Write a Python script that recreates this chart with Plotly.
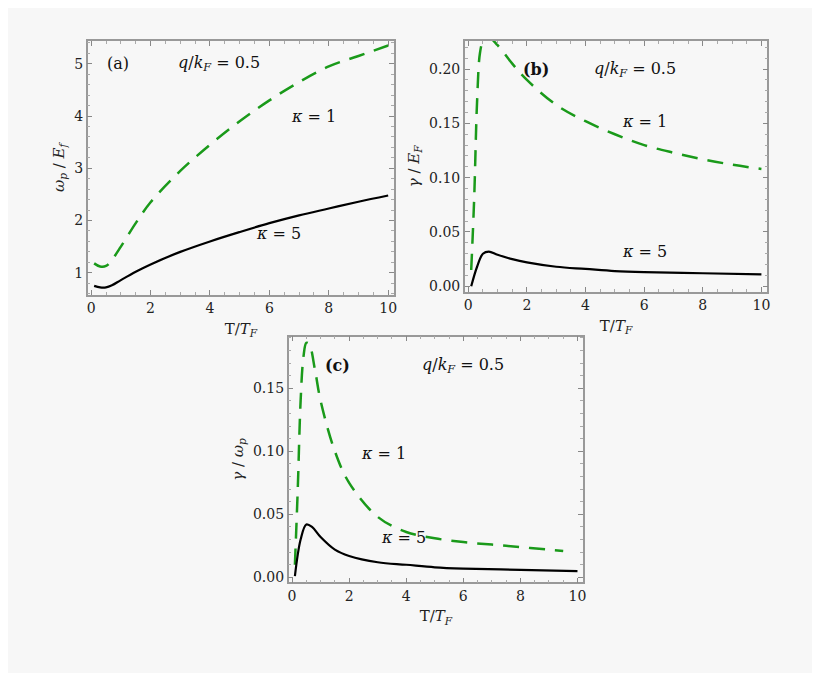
import plotly.graph_objects as go

# panel (a): omega_p / E_F
xa_k1 = [0.1, 0.3, 0.5, 0.7, 1, 1.5, 2, 3, 4, 5, 6, 7, 8, 9, 10]
ya_k1 = [1.18, 1.12, 1.13, 1.25, 1.5, 1.95, 2.35, 2.95, 3.45, 3.9, 4.3, 4.65, 4.95, 5.15, 5.35]
xa_k5 = [0.1, 0.3, 0.5, 0.7, 1, 1.5, 2, 3, 4, 5, 6, 7, 8, 9, 10]
ya_k5 = [0.75, 0.72, 0.72, 0.76, 0.86, 1.02, 1.16, 1.4, 1.6, 1.78, 1.95, 2.1, 2.23, 2.36, 2.48]

# panel (b): gamma / E_F
xb_k1 = [0.1, 0.2, 0.3, 0.4, 0.5, 0.7, 1, 1.5, 2, 3, 4, 5, 6, 7, 8, 9, 10]
yb_k1 = [0.015, 0.08, 0.17, 0.215, 0.225, 0.229, 0.222, 0.205, 0.19, 0.167, 0.152, 0.14, 0.13, 0.123, 0.117, 0.112, 0.108]
xb_k5 = [0.1, 0.3, 0.5, 0.7, 1, 1.5, 2, 3, 4, 5, 6, 8, 10]
yb_k5 = [0.0, 0.018, 0.03, 0.032, 0.029, 0.025, 0.022, 0.018, 0.016, 0.014, 0.013, 0.012, 0.011]

# panel (c): gamma / omega_p
xc_k1 = [0.1, 0.2, 0.3, 0.4, 0.5, 0.6, 0.8, 1, 1.5, 2, 3, 4, 5, 6, 7, 8, 9, 9.5]
yc_k1 = [0.01, 0.07, 0.14, 0.175, 0.186, 0.185, 0.165, 0.14, 0.1, 0.075, 0.048, 0.036, 0.031, 0.028, 0.026, 0.024, 0.022, 0.021]
xc_k5 = [0.1, 0.3, 0.5, 0.7, 1, 1.5, 2, 3, 4, 5, 6, 8, 10]
yc_k5 = [0.001, 0.03, 0.042, 0.04, 0.032, 0.022, 0.017, 0.012, 0.01, 0.008, 0.007, 0.006, 0.005]

green = '#1a9a1a'
font = 'DejaVu Serif, Liberation Serif, serif'
fig = go.Figure()

panels = [
    ('', xa_k1, ya_k1, xa_k5, ya_k5),
    ('2', xb_k1, yb_k1, xb_k5, yb_k5),
    ('3', xc_k1, yc_k1, xc_k5, yc_k5),
]
for s, x1, y1, x5, y5 in panels:
    fig.add_trace(go.Scatter(x=x1, y=y1, mode='lines', line=dict(color=green, width=2.5, dash='16px,10px', shape='spline'),
                             xaxis='x' + s, yaxis='y' + s, showlegend=False))
    fig.add_trace(go.Scatter(x=x5, y=y5, mode='lines', line=dict(color='black', width=2.2, shape='spline'),
                             xaxis='x' + s, yaxis='y' + s, showlegend=False))

ax = dict(showgrid=False, zeroline=False, showline=True, linecolor='#999', linewidth=1.5, mirror='ticks',
          ticks='inside', ticklen=5, tickcolor='#888', minor=dict(ticks='inside', ticklen=3, tickcolor='#aaa'),
          tickfont=dict(family=font, size=14, color='#222'))

def xaxis(dom, anchor):
    return dict(ax, domain=dom, anchor=anchor, range=[-0.12, 10.2], tickvals=[0, 2, 4, 6, 8, 10],
                minor=dict(ax['minor'], dtick=0.5),
                title=dict(text='T/<i>T<sub>F</sub></i>', font=dict(family=font, size=15, color='#222'), standoff=8))

def yaxis(dom, anchor, rng, dtick, minor, fmt, title):
    return dict(ax, domain=dom, anchor=anchor, range=rng, dtick=dtick, tickformat=fmt,
                minor=dict(ax['minor'], dtick=minor),
                title=dict(text=title, font=dict(family=font, size=15, color='#222'), standoff=6))

# page has an 8px body margin, so domains are shifted to compensate
W, H = 820.0, 673.0
def dx(a, b):
    return [(a - 8) / W, (b - 8) / W]
def dy(top, bot):
    return [1 - (bot - 8) / H, 1 - (top - 8) / H]

fig.update_layout(
    width=820, height=673, margin=dict(l=0, r=0, t=0, b=0),
    paper_bgcolor='#f7f7f7', plot_bgcolor='#f7f7f7',
    xaxis=xaxis(dx(87, 395), 'y'),
    yaxis=yaxis(dy(41, 296), 'x', [0.58, 5.44], 1, 0.2, '', '<i>ω<sub>p</sub></i> / <i>E<sub>f</sub></i>'),
    xaxis2=xaxis(dx(466, 770), 'y2'),
    yaxis2=yaxis(dy(41, 293), 'x2', [-0.005, 0.226], 0.05, 0.01, '.2f', '<i>γ</i> / <i>E<sub>F</sub></i>'),
    xaxis3=xaxis(dx(289, 585), 'y3'),
    yaxis3=yaxis(dy(338, 585), 'x3', [-0.004, 0.191], 0.05, 0.01, '.2f', '<i>γ</i> / <i>ω<sub>p</sub></i>'),
)

notes = [
    ('', 0.9, 5.0, '(a)', False), ('', 4.3, 5.0, '<i>q</i>/<i>k<sub>F</sub></i> = 0.5', False),
    ('', 7.5, 4.0, '<i>κ</i> = 1', False), ('', 6.3, 1.75, '<i>κ</i> = 5', False),
    ('2', 2.3, 0.2, '(b)', True), ('2', 5.7, 0.2, '<i>q</i>/<i>k<sub>F</sub></i> = 0.5', False),
    ('2', 6.0, 0.152, '<i>κ</i> = 1', False), ('2', 6.0, 0.032, '<i>κ</i> = 5', False),
    ('3', 1.6, 0.168, '(c)', True), ('3', 6.0, 0.168, '<i>q</i>/<i>k<sub>F</sub></i> = 0.5', False),
    ('3', 3.2, 0.098, '<i>κ</i> = 1', False), ('3', 3.9, 0.032, '<i>κ</i> = 5', False),
]
for s, x, y, t, bold in notes:
    fig.add_annotation(x=x, y=y, xref='x' + s, yref='y' + s, text='<b>' + t + '</b>' if bold else t,
                       showarrow=False, font=dict(family=font, size=16, color='#111'))

fig.write_html('out.html')
